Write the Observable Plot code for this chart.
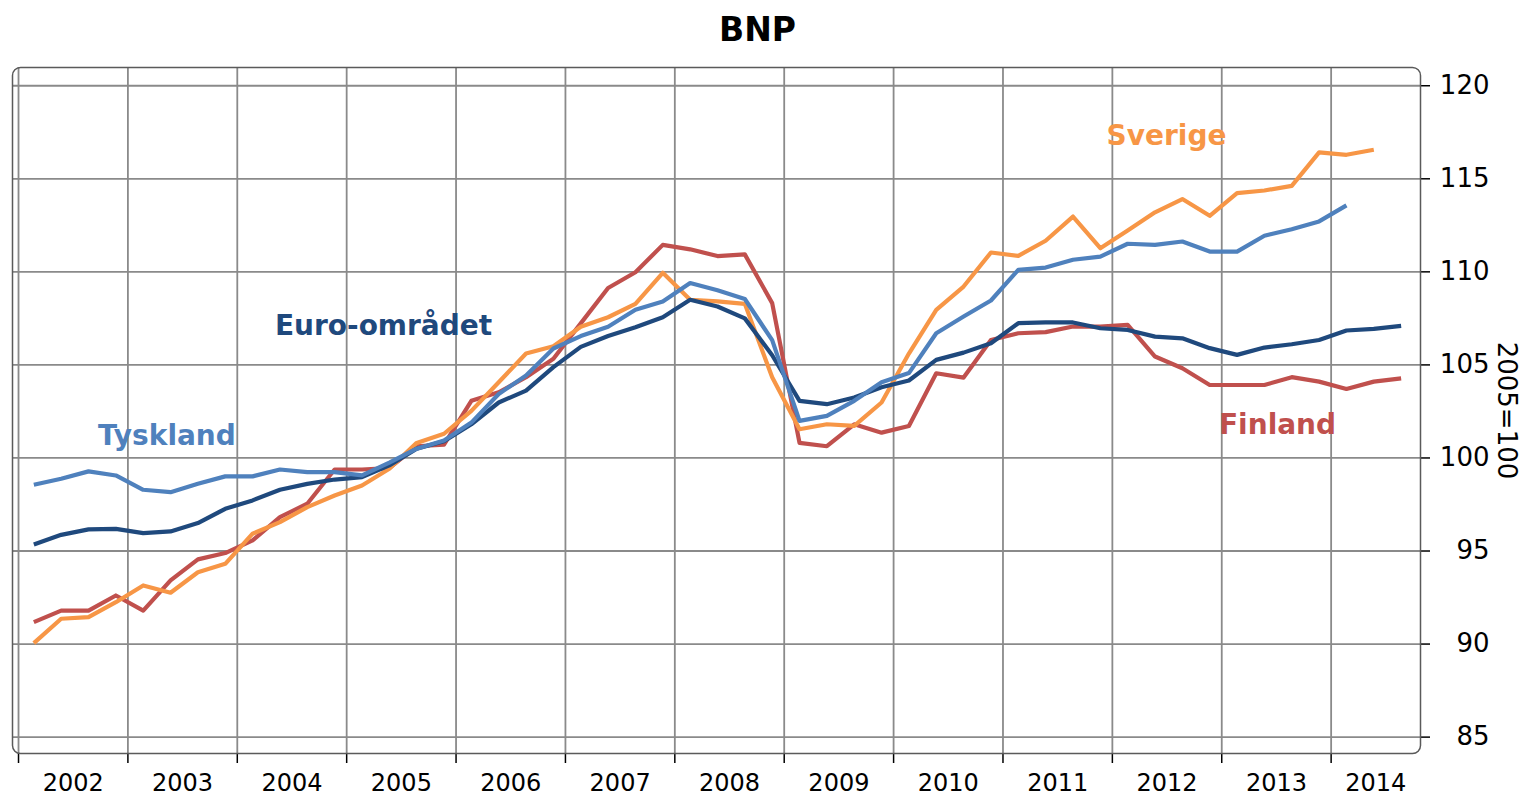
<!DOCTYPE html>
<html><head><meta charset="utf-8">
<script src="https://cdn.jsdelivr.net/npm/d3@7"></script>
<script src="https://cdn.jsdelivr.net/npm/@observablehq/plot@0.6"></script>
<style>
body{margin:0;background:#fff;font-family:"DejaVu Sans",sans-serif}
#title{height:60px;position:relative}
#title span{position:absolute;left:0;width:1515px;text-align:center;top:10px;font-weight:bold;font-size:33px;line-height:normal;color:#000}
svg g[aria-label^="x-axis"] path, svg g[aria-label^="x-axis"] line,
svg g[aria-label^="y-axis"] path, svg g[aria-label^="y-axis"] line{stroke-width:1.5px}
</style></head><body>
<div id="title"><span>BNP</span></div>
<div id="chart"></div>
<script>
// Quarterly GDP index (2005=100), 2002Q1 onward
const startYear = 2002;
const years = [2002,2003,2004,2005,2006,2007,2008,2009,2010,2011,2012,2013,2014];
const yTicks = [85,90,95,100,105,110,115,120];

const sverige = [90.05,91.36,91.45,92.25,93.15,92.76,93.86,94.31,95.93,96.55,
  97.36,97.98,98.52,99.42,100.81,101.3,102.53,104.07,105.61,106.0,
  107.05,107.56,108.28,109.95,108.5,108.41,108.28,104.34,101.54,101.81,
  101.72,102.98,105.61,107.96,109.21,111.04,110.86,111.67,112.97,111.27,
  112.22,113.2,113.91,113.01,114.23,114.37,114.62,116.42,116.29,116.56];

const tyskland = [98.56,98.88,99.28,99.06,98.29,98.16,98.61,99.01,99.01,99.38,
  99.24,99.24,99.06,99.75,100.5,100.94,101.9,103.44,104.43,105.88,
  106.55,107.05,107.96,108.41,109.4,109.01,108.54,106.33,101.99,102.26,
  103.07,104.07,104.56,106.7,107.6,108.46,110.11,110.23,110.65,110.82,
  111.51,111.45,111.63,111.09,111.09,111.94,112.29,112.71,113.57];

const euro = [95.35,95.87,96.16,96.19,95.96,96.05,96.5,97.27,97.72,98.29,
  98.61,98.84,98.97,99.6,100.5,100.9,101.81,102.98,103.62,104.88,
  105.97,106.55,107.02,107.56,108.5,108.14,107.5,105.52,103.07,102.89,
  103.25,103.8,104.16,105.27,105.66,106.16,107.24,107.28,107.28,106.97,
  106.88,106.52,106.43,105.9,105.54,105.93,106.11,106.34,106.85,106.94,107.1];

const finland = [91.18,91.8,91.8,92.61,91.8,93.42,94.55,94.89,95.57,96.82,
  97.54,99.38,99.38,99.45,100.63,100.72,103.07,103.53,104.34,105.33,
  107.23,109.13,109.98,111.45,111.21,110.85,110.94,108.32,100.81,100.63,
  101.81,101.36,101.72,104.55,104.32,106.34,106.7,106.76,107.06,107.06,
  107.15,105.45,104.82,103.92,103.92,103.92,104.34,104.1,103.71,104.1,104.28];

const seriesNames = ["Finland","Sverige","Euro-området","Tyskland"];
const seriesValues = [finland, sverige, euro, tyskland];
const seriesColors = ["#C0504D","#F79646","#1F497D","#4F81BD"];

// label anchors (data units)
const labelNames = ["Sverige","Tyskland","Euro-området","Finland"];
const labelX = [2012.495, 2003.357, 2005.337, 2013.51];
const labelY = [117.31, 101.19, 107.07, 101.75];
const labelColors = ["#F79646","#4F81BD","#1F497D","#C0504D"];

const xDomain = [2001.945, 2014.817];
const yDomain = [84.12, 120.98];

const qx = i => startYear + (i + 0.56) / 4;

const lineMarks = seriesValues.map((vals, k) =>
  Plot.line(vals.map((v, i) => ({t: qx(i), v})), {
    x: "t", y: "v", stroke: seriesColors[k], strokeWidth: 4.2,
    strokeLinejoin: "round", strokeLinecap: "butt"
  })
);

const yearLabels = years.map(y => ({year: y, mid: (y + Math.min(y + 1, xDomain[1])) / 2}));
const labels = labelNames.map((n, i) => ({n, x: labelX[i], y: labelY[i], c: labelColors[i]}));

const chart = Plot.plot({
  width: 1526,
  height: 737,
  marginLeft: 12,
  marginRight: 106,
  marginTop: 7,
  marginBottom: 44,
  style: {fontFamily: "DejaVu Sans", background: "#fff", overflow: "visible", color: "#000"},
  x: {type: "linear", domain: xDomain, ticks: years, tickSize: 10, tickFormat: () => "", label: null, axis: "bottom"},
  y: {domain: yDomain, ticks: yTicks, tickSize: 9, tickFormat: () => "", label: null, axis: "right"},
  marks: [
    Plot.ruleY(yTicks, {y: d => d, stroke: "#8a8a8a", strokeWidth: 1.8}),
    Plot.ruleX(years, {x: d => d, stroke: "#8a8a8a", strokeWidth: 1.8}),
    ...lineMarks,
    Plot.frame({stroke: "#5a5a5a", strokeWidth: 1.5, rx: 8, ry: 8}),
    Plot.text(yTicks, {y: d => d, text: d => String(d), frameAnchor: "right", dx: 69, textAnchor: "end", fontSize: 26, fill: "#000"}),
    Plot.text(yearLabels, {x: "mid", text: d => String(d.year), frameAnchor: "bottom", dy: 37, fontSize: 24, fill: "#000"}),
    Plot.text(["2005=100"], {text: d => d, frameAnchor: "right", textAnchor: "middle", dx: 86, rotate: 90, fontSize: 26, fill: "#000"}),
    ...labels.map(l => Plot.text([l], {x: "x", y: "y", text: "n", fill: l.c, fontWeight: "bold", fontSize: 28}))
  ]
});
document.getElementById("chart").appendChild(chart);
</script>
</body></html>
